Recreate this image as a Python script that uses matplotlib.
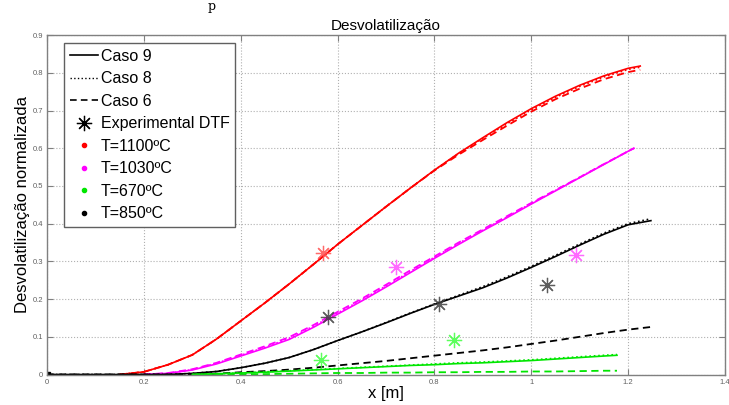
import matplotlib
matplotlib.use("Agg")
import matplotlib.pyplot as plt
from matplotlib.lines import Line2D

plt.rcParams['font.family'] = ['Liberation Sans', 'DejaVu Sans']

# Red curves, T=1100ºC
x_red = [0.15, 0.20, 0.25, 0.30, 0.35, 0.40, 0.45, 0.50, 0.55, 0.60, 0.65, 0.70,
         0.75, 0.80, 0.85, 0.90, 0.95, 1.00, 1.05, 1.10, 1.15, 1.20, 1.225]
red_c9 = [0.0, 0.007, 0.026, 0.052, 0.094, 0.142, 0.19, 0.24, 0.292, 0.345, 0.395, 0.445,
          0.494, 0.542, 0.587, 0.628, 0.668, 0.705, 0.738, 0.767, 0.792, 0.812, 0.818]
red_c8 = [0.0, 0.007, 0.026, 0.052, 0.094, 0.142, 0.19, 0.24, 0.292, 0.345, 0.395, 0.445,
          0.494, 0.542, 0.586, 0.626, 0.665, 0.702, 0.735, 0.764, 0.789, 0.809, 0.815]
red_c6 = [0.0, 0.007, 0.026, 0.052, 0.094, 0.142, 0.19, 0.24, 0.292, 0.345, 0.395, 0.445,
          0.494, 0.541, 0.583, 0.622, 0.66, 0.697, 0.73, 0.758, 0.783, 0.802, 0.808]

# Magenta curves, T=1030ºC
x_mag = [0.20, 0.25, 0.30, 0.35, 0.40, 0.45, 0.50, 0.55, 0.60, 0.65, 0.70,
         0.75, 0.80, 0.85, 0.90, 0.95, 1.00, 1.05, 1.10, 1.15, 1.20, 1.212]
mag_c9 = [0.0, 0.003, 0.012, 0.028, 0.049, 0.07, 0.093, 0.125, 0.16, 0.195, 0.232,
          0.27, 0.308, 0.345, 0.381, 0.416, 0.452, 0.487, 0.522, 0.557, 0.592, 0.60]
mag_c8 = [0.0, 0.003, 0.013, 0.03, 0.051, 0.072, 0.096, 0.128, 0.163, 0.198, 0.235,
          0.273, 0.311, 0.348, 0.383, 0.418, 0.454, 0.488, 0.523, 0.558, 0.592, 0.60]
mag_c6 = [0.0, 0.004, 0.014, 0.031, 0.053, 0.075, 0.099, 0.131, 0.166, 0.201, 0.238,
          0.276, 0.313, 0.35, 0.385, 0.42, 0.455, 0.489, 0.523, 0.558, 0.592, 0.60]

# Black curves, T=850ºC
x_blk = [0.0, 0.25, 0.30, 0.35, 0.40, 0.45, 0.50, 0.55, 0.60, 0.65, 0.70,
         0.75, 0.80, 0.85, 0.90, 0.95, 1.00, 1.05, 1.10, 1.15, 1.20, 1.247]
blk_c9 = [0.0, 0.0, 0.003, 0.008, 0.018, 0.03, 0.045, 0.066, 0.09, 0.113, 0.137,
          0.162, 0.186, 0.208, 0.23, 0.256, 0.284, 0.313, 0.343, 0.372, 0.397, 0.408]
blk_c8 = [0.0, 0.0, 0.003, 0.008, 0.018, 0.03, 0.045, 0.066, 0.09, 0.113, 0.138,
          0.163, 0.187, 0.21, 0.233, 0.259, 0.287, 0.316, 0.346, 0.375, 0.4, 0.413]
blk_c6 = [0.0, 0.0, 0.0, 0.002, 0.006, 0.009, 0.013, 0.018, 0.024, 0.03, 0.036,
          0.043, 0.05, 0.057, 0.064, 0.072, 0.081, 0.09, 0.1, 0.11, 0.119, 0.126]

# Green curves, T=670ºC
x_grn = [0.30, 0.35, 0.40, 0.45, 0.50, 0.55, 0.60, 0.65, 0.70, 0.75,
         0.80, 0.85, 0.90, 0.95, 1.00, 1.05, 1.10, 1.15, 1.177]
grn_c9 = [0.0, 0.002, 0.004, 0.006, 0.009, 0.012, 0.015, 0.018, 0.021, 0.024,
          0.026, 0.029, 0.031, 0.034, 0.037, 0.041, 0.045, 0.049, 0.051]
grn_c8 = [0.0, 0.002, 0.004, 0.007, 0.01, 0.013, 0.016, 0.019, 0.022, 0.025,
          0.028, 0.031, 0.033, 0.036, 0.039, 0.043, 0.047, 0.051, 0.053]
grn_c6 = [0.0, 0.0, 0.001, 0.001, 0.002, 0.003, 0.004, 0.004, 0.005, 0.005,
          0.006, 0.006, 0.007, 0.007, 0.008, 0.008, 0.009, 0.01, 0.01]

# Experimental DTF points
exp_red_x, exp_red_y = [0.57], [0.322]
exp_mag_x, exp_mag_y = [0.72, 1.092], [0.286, 0.317]
exp_blk_x, exp_blk_y = [0.58, 0.81, 1.032], [0.153, 0.187, 0.237]
exp_grn_x, exp_grn_y = [0.566, 0.84], [0.038, 0.091]

x_ticks = [0, 0.2, 0.4, 0.6, 0.8, 1.0, 1.2, 1.4]
x_tick_labels = ['0', '0.2', '0.4', '0.6', '0.8', '1', '1.2', '1.4']
y_ticks = [0, 0.1, 0.2, 0.3, 0.4, 0.5, 0.6, 0.7, 0.8, 0.9]
y_tick_labels = ['0', '0.1', '0.2', '0.3', '0.4', '0.5', '0.6', '0.7', '0.8', '0.9']

RED, MAG, GRN, BLK = '#ff0000', '#ff00ff', '#00e600', '#000000'
ASTERISK = (8, 2, 0)

fig = plt.figure(figsize=(7.29, 4.05), dpi=100)
ax = fig.add_axes([0.0645, 0.0753, 0.930, 0.838])

# simulated cases: solid = Caso 9, dotted = Caso 8, dashed = Caso 6
for x, c9, c8, c6, col in [(x_red, red_c9, red_c8, red_c6, RED),
                           (x_mag, mag_c9, mag_c8, mag_c6, MAG),
                           (x_blk, blk_c9, blk_c8, blk_c6, BLK),
                           (x_grn, grn_c9, grn_c8, grn_c6, GRN)]:
    ax.plot(x, c6, color=col, lw=1.3, ls=(0, (4, 2.5)))
    ax.plot(x, c8, color=col, lw=1.2, ls=':')
    ax.plot(x, c9, color=col, lw=1.2, ls='-')

for x, y, col in [(exp_red_x, exp_red_y, '#ff5050'),
                  (exp_mag_x, exp_mag_y, '#ff50ff'),
                  (exp_blk_x, exp_blk_y, '#404040'),
                  (exp_grn_x, exp_grn_y, '#40ff40')]:
    ax.plot(x, y, ls='none', marker=ASTERISK, ms=11, mew=0.9, color=col, alpha=0.85)

ax.plot([0], [0], ls='none', marker='s', ms=4, color=BLK)

ax.set_xlim(0, 1.4)
ax.set_ylim(0, 0.9)
ax.set_xticks(x_ticks)
ax.set_xticklabels(x_tick_labels)
ax.set_yticks(y_ticks)
ax.set_yticklabels(y_tick_labels)
ax.tick_params(direction='in', length=4, width=0.8, colors='#808080',
               labelsize=5.5, labelcolor='#606060', top=True, right=True, pad=3)
ax.grid(True, color='#b0b0b0', ls=':', lw=0.8)
for sp in ax.spines.values():
    sp.set_color('#808080')
    sp.set_linewidth(1.0)

ax.set_title('Desvolatilização', fontsize=11, pad=4)
ax.set_xlabel('x [m]', fontsize=12, labelpad=0)
ax.set_ylabel('Desvolatilização normalizada', fontsize=12, labelpad=2)

handles = [
    Line2D([], [], color=BLK, lw=1.2, ls='-'),
    Line2D([], [], color=BLK, lw=1.0, ls=':'),
    Line2D([], [], color=BLK, lw=1.2, ls=(0, (4, 2.5))),
    Line2D([], [], color=BLK, ls='none', marker=ASTERISK, ms=11, mew=0.9),
    Line2D([], [], color=RED, ls='none', marker='.', ms=6),
    Line2D([], [], color=MAG, ls='none', marker='.', ms=6),
    Line2D([], [], color=GRN, ls='none', marker='.', ms=6),
    Line2D([], [], color=BLK, ls='none', marker='.', ms=6),
]
labels = ['Caso 9', 'Caso 8', 'Caso 6', 'Experimental DTF',
          'T=1100ºC', 'T=1030ºC', 'T=670ºC', 'T=850ºC']
leg = ax.legend(handles, labels, loc='upper left', bbox_to_anchor=(0.025, 0.976),
                borderaxespad=0, fontsize=11.5, handlelength=1.8, handletextpad=0.15,
                labelspacing=0.47, borderpad=0.35, fancybox=False, framealpha=1)
leg.get_frame().set_edgecolor('#606060')
leg.get_frame().set_linewidth(1.0)

# fragment of the caption line above the figure
fig.text(0.285, 1.0, 'p', family='DejaVu Serif', fontsize=9, va='top', ha='left')

fig.savefig('out.png', dpi=100)
